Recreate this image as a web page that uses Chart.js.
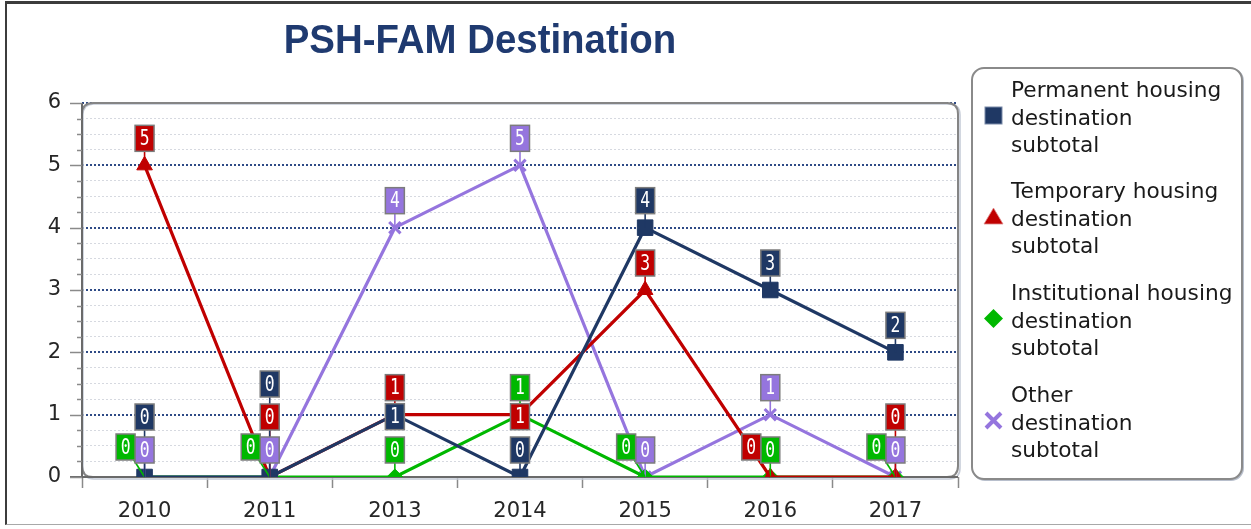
<!DOCTYPE html>
<html>
<head>
<meta charset="utf-8">
<script src="https://cdn.jsdelivr.net/npm/chart.js@4/dist/chart.umd.min.js"></script>
<style>
  html,body{margin:0;padding:0;background:#fff;}
  #wrap{position:relative;width:1251px;height:529px;overflow:hidden;background:#fff;}
  #frame{position:absolute;left:5px;top:1px;width:1300px;height:524px;border-top:3px solid #3c3c3c;border-left:2px solid #3c3c3c;border-bottom:1px solid #a8a8a8;box-sizing:border-box;}
  #c{position:absolute;left:0;top:0;}
  #title{position:absolute;left:230px;width:500px;top:17px;text-align:center;font:bold 40px "Liberation Sans",Arial,sans-serif;color:#1F3A70;transform:scaleX(0.96);transform-origin:center;}
  #legend{position:absolute;left:971px;top:67px;width:272px;height:413px;box-sizing:border-box;border:2px solid #8a8a8a;border-radius:13px;box-shadow:1px 1px 0 #b8bfcc;background:#fff;}
  .lg{position:absolute;left:38px;font:22px "DejaVu Sans",sans-serif;line-height:27.5px;color:#1a1a1a;white-space:nowrap;transform:scaleX(0.985);transform-origin:left;}
  .mk{position:absolute;left:9px;width:22px;height:22px;}
</style>
</head>
<body>
<div id="wrap">
  <div id="frame"></div>
  <canvas id="c" width="1251" height="529"></canvas>
  <div id="title">PSH-FAM Destination</div>
  <div id="legend"></div>
</div>
<script>
// ---- data ----
const categories = ['2010','2011','2013','2014','2015','2016','2017'];
const permanentHousing = [0,0,1,0,4,3,2];
const temporaryHousing = [5,0,1,1,3,0,0];
const institutionalHousing = [0,0,0,1,0,0,0];
const otherDestination = [0,0,4,5,0,1,0];
const seriesNames = [
  ['Permanent housing','destination','subtotal'],
  ['Temporary housing','destination','subtotal'],
  ['Institutional housing','destination','subtotal'],
  ['Other','destination','subtotal']
];
const yTickValues = [0,1,2,3,4,5,6];

// ---- styles ----
const colors = ['#1F3864','#C00000','#00B800','#9575DE'];
const pointStyles = ['rect','triangle','rectRot','crossRot'];
const pointRadii = [11,9,8,8];

const CA = {left:82, top:103, right:958, bottom:477};

function rr(ctx,x,y,w,h,r){
  ctx.beginPath();
  ctx.moveTo(x+r,y);ctx.lineTo(x+w-r,y);ctx.quadraticCurveTo(x+w,y,x+w,y+r);
  ctx.lineTo(x+w,y+h-r);ctx.quadraticCurveTo(x+w,y+h,x+w-r,y+h);
  ctx.lineTo(x+r,y+h);ctx.quadraticCurveTo(x,y+h,x,y+h-r);
  ctx.lineTo(x,y+r);ctx.quadraticCurveTo(x,y,x+r,y);ctx.closePath();
}
function isMajor(v){return Math.abs(v-Math.round(v))<1e-6;}

const framePlugin = {
  id:'frame',
  beforeDraw(chart){
    const ctx=chart.ctx, a=chart.chartArea;
    ctx.save();
    rr(ctx,a.left,a.top,a.right-a.left,a.bottom-a.top,11);
    ctx.fillStyle='#ffffff';ctx.fill();
    ctx.restore();
  },
  beforeDatasetsDraw(chart){
    const ctx=chart.ctx, a=chart.chartArea, y=chart.scales.y;
    ctx.save();
    rr(ctx,a.left+1,a.top+1,a.right-a.left+1,a.bottom-a.top+1,11);
    ctx.strokeStyle='#c4cad6';ctx.lineWidth=1.5;ctx.stroke();
    rr(ctx,a.left,a.top,a.right-a.left,a.bottom-a.top,11);
    ctx.strokeStyle='#858585';ctx.lineWidth=2;ctx.stroke();
    ctx.strokeStyle='#6a6a6a';ctx.lineWidth=2;
    ctx.beginPath();ctx.moveTo(a.left,a.top);ctx.lineTo(a.left,a.bottom);ctx.stroke();
    ctx.beginPath();ctx.moveTo(a.left-12,a.bottom);ctx.lineTo(a.right,a.bottom);ctx.stroke();
    ctx.strokeStyle='#8a8a8a';ctx.lineWidth=1.5;
    y.ticks.forEach(t=>{
      const p=Math.round(y.getPixelForValue(t.value))+0.5;
      const major=isMajor(t.value);
      ctx.beginPath();ctx.moveTo(a.left-(major?12:5),p);ctx.lineTo(a.left,p);ctx.stroke();
    });
    ctx.restore();
  }
};

function overlap(a,b){
  return a.x < b.x+b.w-0.5 && b.x < a.x+a.w-0.5 && a.y < b.y+b.h-0.5 && b.y < a.y+a.h-0.5;
}

const labelPlugin = {
  id:'valueBoxes',
  afterDatasetsDraw(chart){
    const ctx=chart.ctx, a=chart.chartArea;
    const W=19,H=26;
    const order=[3,2,1,0];
    const items=[];
    for(let i=0;i<chart.data.labels.length;i++){
      const placed=[];
      for(const d of order){
        const el=chart.getDatasetMeta(d).data[i];
        const v=chart.data.datasets[d].data[i];
        const px=el.x, py=el.y;
        const cands=[[0,-27],[0,2],[-19,-30]];
        for(let k=1;k<8;k++) cands.push([0,-27-33*k]);
        let box=null;
        for(const [dx,dy] of cands){
          const b={x:px+dx-W/2,y:py+dy-H/2,w:W,h:H};
          if(b.y+b.h>a.bottom+1) continue;
          if(placed.some(o=>overlap(o,b))) continue;
          box=b;break;
        }
        placed.push(box);
        items.push({box,px,py,v,c:colors[d]});
      }
    }
    ctx.save();
    ctx.lineWidth=1.6;
    items.forEach(it=>{
      ctx.strokeStyle=it.c;
      ctx.beginPath();ctx.moveTo(it.box.x+it.box.w/2,it.box.y+it.box.h/2);ctx.lineTo(it.px,it.py);ctx.stroke();
    });
    items.forEach(it=>{
      const b=it.box;
      ctx.fillStyle=it.c;ctx.fillRect(b.x,b.y,b.w,b.h);
      ctx.strokeStyle='#7c7c7c';ctx.lineWidth=1.5;ctx.strokeRect(b.x,b.y,b.w,b.h);
      ctx.save();
      ctx.translate(b.x+b.w/2,b.y+b.h/2+1);
      ctx.scale(0.78,1.05);
      ctx.fillStyle='#ffffff';ctx.font='21px "DejaVu Sans Mono", monospace';
      ctx.textAlign='center';ctx.textBaseline='middle';
      ctx.fillText(String(it.v),0,0);
      ctx.restore();
    });
    ctx.restore();
  }
};

const seriesData=[permanentHousing,temporaryHousing,institutionalHousing,otherDestination];
const datasets=seriesData.map((arr,i)=>({
  label:seriesNames[i].join(' '),
  data:arr,
  borderColor:colors[i],
  backgroundColor:colors[i],
  borderWidth:3.2,
  pointStyle:pointStyles[i],
  pointRadius:pointRadii[i],
  pointHoverRadius:pointRadii[i],
  pointBorderWidth:i===3?3:1,
  pointBackgroundColor:colors[i],
  pointBorderColor:colors[i],
  tension:0,
  clip:0
}));

new Chart(document.getElementById('c'),{
  type:'line',
  data:{labels:categories,datasets},
  options:{
    responsive:false,animation:false,
    layout:{padding:{left:0,top:CA.top,right:1251-CA.right,bottom:0}},
    plugins:{legend:{display:false},title:{display:false},tooltip:{enabled:false}},
    scales:{
      x:{
        offset:true,
        afterFit(s){s.height=529-CA.bottom;},
        grid:{offset:true,drawOnChartArea:false,drawTicks:true,tickLength:11,tickColor:'#8a8a8a',tickWidth:1.5},
        border:{display:false},
        ticks:{padding:11,color:'#262626',font:{family:'DejaVu Sans',size:21}}
      },
      y:{
        min:0,max:6,
        afterFit(s){s.width=CA.left;},
        afterBuildTicks(s){
          const t=[];for(let k=0;k<=24;k++)t.push({value:k/4});s.ticks=t;
        },
        grid:{
          drawTicks:false,
          color:c=>{const v=c.tick?c.tick.value:0;return isMajor(v)?'#2E4A86':'#d6d9e0';},
          lineWidth:c=>{const v=c.tick?c.tick.value:0;return isMajor(v)?2:1;}
        },
        border:{display:false,dash:[2,2]},
        ticks:{
          autoSkip:false,
          padding:21,color:'#262626',font:{family:'DejaVu Sans',size:21},
          callback:v=>{const r=Math.round(v);return (isMajor(v) && yTickValues.includes(r))?String(r):'';}
        }
      }
    }
  },
  plugins:[framePlugin,labelPlugin]
});

// ---- HTML legend ----
const legend=document.getElementById('legend');
const groupTops=[7,108,210,312];
function markerSVG(i){
  const c=colors[i];
  let s='';
  if(i===0) s=`<rect x="3" y="3" width="17" height="17" fill="${c}" stroke="#7a8aa8" stroke-width="1"/>`;
  if(i===1) s=`<polygon points="11.5,3 21,19 2,19" fill="${c}" stroke="#d88" stroke-width="0.8"/>`;
  if(i===2) s=`<polygon points="11.5,2 21,11.5 11.5,21 2,11.5" fill="${c}"/>`;
  if(i===3) s=`<path d="M4,4 L19,19 M19,4 L4,19" stroke="${c}" stroke-width="4"/>`;
  return `<svg width="23" height="23" viewBox="0 0 23 23">${s}</svg>`;
}
seriesNames.forEach((lines,i)=>{
  const g=document.createElement('div');
  g.className='lg';g.style.top=groupTops[i]+'px';
  g.innerHTML=lines.join('<br>');
  legend.appendChild(g);
  const m=document.createElement('div');
  m.className='mk';m.style.top=(groupTops[i]+28)+'px';
  m.innerHTML=markerSVG(i);
  legend.appendChild(m);
});
</script>
</body>
</html>
